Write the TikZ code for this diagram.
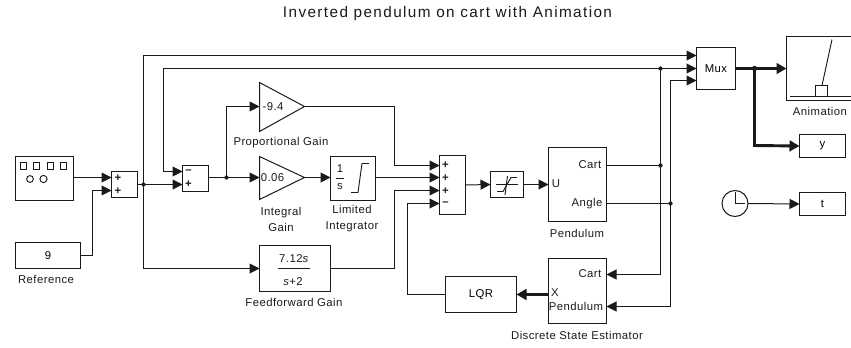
\documentclass[tikz,border=0pt]{standalone}
\usepackage{fontspec}
\setmainfont[LetterSpace=4]{Liberation Sans}
\newfontfamily\titlefont[LetterSpace=9]{Liberation Sans}
\usetikzlibrary{arrows.meta,calc}
\definecolor{ink}{HTML}{1A1A1A}
\tikzset{
  x=0.75pt,y=-0.75pt,
  blk/.style={draw=ink,line width=0.75pt,inner sep=0pt,outer sep=0pt,font=\fontsize{8.5}{10}\selectfont},
  lab/.style={inner sep=0pt,font=\fontsize{8.5}{10}\selectfont,text=ink},
  twoline/.style={lab,align=center,font=\fontsize{8.5}{12}\selectfont},
  plus/.style={lab,font=\bfseries\fontsize{8.5}{10}\selectfont},
  sig/.style={draw=ink,line width=0.75pt,-{Triangle[length=7.5pt,width=7.5pt]}},
  wire/.style={draw=ink,line width=0.75pt},
  fat sig/.style={draw=ink,line width=2.2pt,-{Triangle[length=7.5pt,width=8pt]}},
  fine/.style={draw=ink,line width=0.7pt},
  jn/.style={circle,fill=ink,inner sep=0pt,minimum size=3.2pt},
}
\newcommand{\blockat}[6]{%
  \pgfmathsetmacro{\bcx}{(#2+#4)/2}\pgfmathsetmacro{\bcy}{(#3+#5)/2}%
  \pgfmathsetmacro{\bw}{(#4-#2)*0.75}\pgfmathsetmacro{\bh}{(#5-#3)*0.75}%
  \node[blk,minimum width=\bw pt,minimum height=\bh pt,align=center] (#1) at (\bcx,\bcy) {#6};}
\begin{document}
\begin{tikzpicture}
\useasboundingbox (0,0) rectangle (851,347);
\node[inner sep=0pt,text=ink,font=\titlefont\fontsize{11.5}{14}\selectfont] (title) at (447.5,14) {Inverted pendulum on cart with Animation};

% blocks
\blockat{src}{15.5}{156.5}{73.5}{200.5}{}
\foreach \i/\xx in {1/23.5,2/36.5,3/50.5,4/63.5}
  \draw[fine] (\xx-3,162.5) rectangle (\xx+3,169.5);
\draw[fine] (30,179) circle[radius=3.4];
\draw[fine] (43.5,179) circle[radius=3.6];
\blockat{ref}{15.5}{242.5}{80.5}{268.5}{9}
\node[lab] (reflab) at (46,279.5) {Reference};
\blockat{suma}{111.5}{171.5}{137.5}{197.5}{}
\node[plus] (suma1) at (118,178) {+};
\node[plus] (suma2) at (118,191) {+};
\blockat{sumb}{182.5}{165.5}{208.5}{191.5}{}
\node[plus] (sumb1) at (188.5,171.5) {--};
\node[plus] (sumb2) at (188.5,184.5) {+};

% gains
\coordinate (pgin) at (259.5,106.5);
\coordinate (pgout) at (304.5,106.5);
\draw[wire] (259.5,82.5) -- (pgout) -- (259.5,131.5) -- cycle;
\node[lab] (pgtxt) at (273,106.5) {-9.4};
\node[lab] (pglab) at (281,142.5) {Proportional Gain};
\coordinate (igin) at (259.5,177.5);
\coordinate (igout) at (304.5,177.5);
\draw[wire] (259.5,156.5) -- (igout) -- (259.5,199.5) -- cycle;
\node[lab] (igtxt) at (272.5,177.5) {0.06};
\node[twoline] (iglab) at (281,219) {Integral\\Gain};
\blockat{intg}{330.5}{156.5}{375.5}{200.5}{}
\node[lab] (intone) at (340,169) {1};
\draw[fine] (336,178.5) -- (344,178.5);
\node[lab] (ints) at (340,186.5) {s};
\draw[fine] (351,192.5) -- (358,192.5) -- (362,163.5) -- (369,163.5);
\node[twoline] (intlab) at (352,219) {Limited\\Integrator};
\blockat{ff}{259.5}{245.5}{330.5}{291.5}{}
\node[lab] (ffn) at (294,259) {7.12\textit{s}};
\draw[fine] (278,268.5) -- (310,268.5);
\node[lab] (ffd) at (293,282) {\textit{s}+2};
\node[lab] (fflab) at (294,302.5) {Feedforward Gain};

\blockat{sumc}{439.5}{155.5}{465.5}{214.5}{}
\foreach \n/\yy/\t in {a/165/+,b/178/+,c/191/+,d/203.5/--}
  \node[plus] (sumc\n) at (445.5,\yy) {\t};
\blockat{sat}{490.5}{171.5}{523.5}{197.5}{}
\draw[fine] (497,191.5) -- (503,191.5) -- (511,177.5) -- (517,177.5);
\draw[fine] (496,184.5) -- (518,184.5);
\draw[fine] (507.5,176) -- (505,195);
\blockat{pend}{548.5}{147.5}{606.5}{221.5}{}
\node[lab] (pcart) at (590,164.5) {Cart};
\node[lab] (pu) at (556,184) {U};
\node[lab] (pang) at (587,203.5) {Angle};
\node[lab] (pendlab) at (577,233) {Pendulum};
\blockat{est}{548.5}{258.5}{606.5}{323.5}{}
\node[lab] (ecart) at (590,274) {Cart};
\node[lab] (ex) at (555,293) {X};
\node[lab] (epend) at (576,306) {Pendulum};
\node[lab] (estlab) at (577,335) {Discrete State Estimator};
\blockat{lqr}{445.5}{276.5}{516.5}{312.5}{LQR}
\blockat{mux}{696.5}{47.5}{735.5}{89.5}{Mux}
% animation
\draw[wire] (851,36.5) -- (786.5,36.5) -- (786.5,100.5) -- (851,100.5);
\coordinate (anim) at (786.5,68.5);
\draw[fine] (790,96.5) -- (851,96.5);
\draw[fine] (815.5,96.5) rectangle (827.5,85.5);
\draw[fine] (822,85.5) -- (832,39.5);
\node[lab] (animlab) at (820,111) {Animation};
\blockat{yb}{799.5}{134.5}{845.5}{157.5}{y}
\blockat{tb}{799.5}{192.5}{845.5}{215.5}{t}
\node[draw=ink,circle,line width=0.75pt,minimum size=19.5pt,inner sep=0pt,outer sep=0pt] (clk) at (735,203.5) {};
\draw[wire] (735,192) -- (735,203.5) -- (745,203.5);

% named points
\coordinate (ja) at (143.5,184.5);
\coordinate (jb) at (226.5,177.5);
\coordinate (jc) at (660.5,165.5);
\coordinate (jd) at (670.5,203.5);
\coordinate (je) at (660.5,68.5);
\coordinate (jf) at (754.5,68.5);
\coordinate (sa1) at (111.5,177.5);
\coordinate (sa2) at (111.5,190.5);
\coordinate (sb1) at (182.5,171.5);
\coordinate (sb2) at (182.5,184.5);
\coordinate (sc1) at (439.5,165.5);
\coordinate (sc2) at (439.5,177.5);
\coordinate (sc3) at (439.5,190.5);
\coordinate (sc4) at (439.5,203.5);
\coordinate (m1) at (696.5,55.5);
\coordinate (m2) at (696.5,68.5);
\coordinate (m3) at (696.5,80.5);
\coordinate (ec) at (606.5,274.5);
\coordinate (ep) at (606.5,306.5);
\coordinate (pc) at (606.5,165.5);
\coordinate (pa) at (606.5,203.5);

% connectors
\draw[sig] (src.east|-sa1) -- (sa1);
\draw[sig] (ref.east) -- (92.5,255.5) -- (92.5,190.5) -- (sa2);
\draw[wire] (suma.east) -- (ja);
\draw[sig] (ja) -- (sb2);
\draw[sig] (ja) -- (143.5,55.5) -- (m1);
\draw[sig] (ja) -- (143.5,268.5) -- (ff.west);
\draw[sig] (je) -- (163.5,68.5) -- (163.5,171.5) -- (sb1);
\draw[sig] (je) -- (m2);
\draw[wire] (sumb.east|-jb) -- (jb);
\draw[sig] (jb) |- (pgin);
\draw[sig] (jb) -- (igin);
\draw[sig] (igout) -- (intg.west|-igout);
\draw[sig] (pgout) -- (394.5,106.5) -- (394.5,165.5) -- (sc1);
\draw[sig] (intg.east|-igout) -- (sc2);
\draw[sig] (ff.east) -- (394.5,268.5) -- (394.5,190.5) -- (sc3);
\draw[sig] (lqr.west) -- (407.5,294.5) -- (407.5,203.5) -- (sc4);
\draw[sig] (sumc.east) -- (sat.west);
\draw[sig] (sat.east) -- (pend.west);
\draw[wire] (pc) -- (jc);
\draw[wire] (pa) -- (jd);
\draw[wire] (jc) -- (je);
\draw[sig] (jc) -- (660.5,274.5) -- (ec);
\draw[sig] (jd) -- (670.5,80.5) -- (m3);
\draw[sig] (jd) -- (670.5,306.5) -- (ep);
\draw[fat sig] (est.west|-lqr) -- (lqr.east);
\draw[fat sig,-] (mux.east) -- (jf);
\draw[fat sig] (jf) -- (anim);
\draw[fat sig] (jf) -- (754.5,145.5) -- (yb.west);
\draw[sig] (clk.east) -- (tb.west);
\foreach \j in {ja,jb,jc,jd,je} \node[jn] at (\j) {};
\node[jn,minimum size=4pt] at (jf) {};
\end{tikzpicture}
\end{document}
